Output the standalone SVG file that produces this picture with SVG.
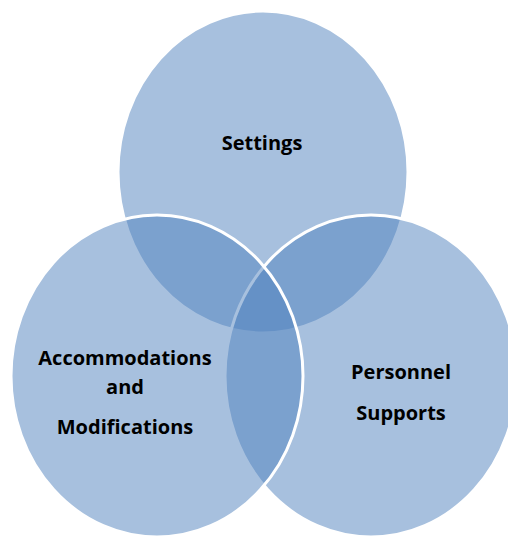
<svg xmlns="http://www.w3.org/2000/svg" width="508" height="537" viewBox="0 0 508 537">
  <style>
    .set { fill: #4F81BD; fill-opacity: 0.5; stroke: #FFFFFF; stroke-width: 3; }
    .lbl { font-family: "Open Sans", "Liberation Sans", sans-serif; font-weight: 700; font-size: 20px; fill: #000000; text-anchor: middle; }
  </style>
  <rect x="0" y="0" width="508" height="537" fill="#FFFFFF"/>
  <g id="settings">
    <ellipse class="set" cx="263" cy="172" rx="145" ry="161"/>
  </g>
  <g id="personnel-supports">
    <ellipse class="set" cx="371" cy="376" rx="146" ry="161"/>
  </g>
  <g id="accommodations-modifications">
    <ellipse class="set" cx="157" cy="376" rx="146" ry="161"/>
  </g>
  <g id="labels">
    <text class="lbl" x="262" y="150">Settings</text>
    <text class="lbl" x="125" y="365">Accommodations</text>
    <text class="lbl" x="125" y="394">and</text>
    <text class="lbl" x="125" y="434">Modifications</text>
    <text class="lbl" x="401" y="379">Personnel</text>
    <text class="lbl" x="401" y="420">Supports</text>
  </g>
</svg>
